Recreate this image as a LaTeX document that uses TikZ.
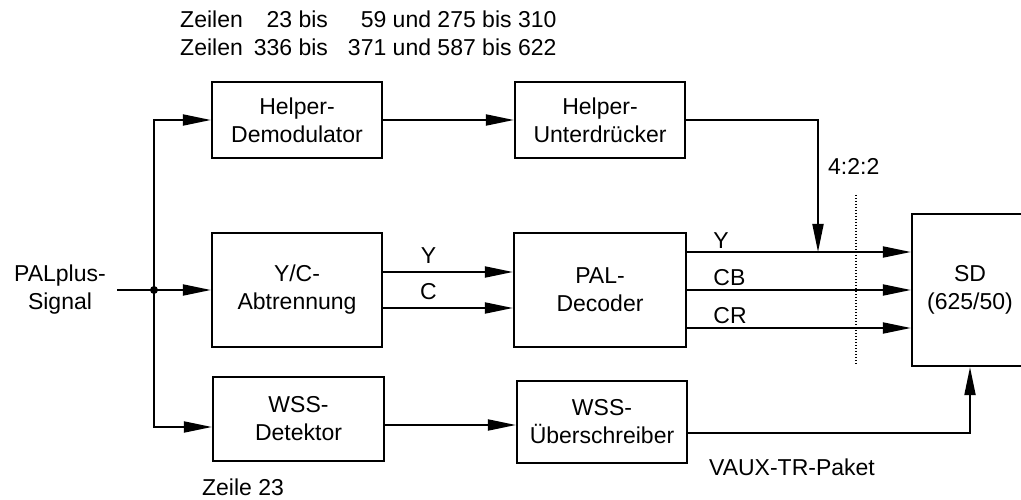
\documentclass[tikz,border=0pt]{standalone}
\usepackage{fontspec}
\setmainfont{Liberation Sans}
\usetikzlibrary{arrows.meta,positioning}
\begin{document}
\begin{tikzpicture}[x=1pt,y=-1pt,font=\fontsize{23}{28}\selectfont,
  block/.style={draw,line width=2.2pt,align=center,inner sep=0pt},
  sig/.style={line width=1.9pt,-{Triangle[length=28pt,width=11pt]}}]
\useasboundingbox (0,0) rectangle (1021,500);
\clip (0,0) rectangle (1021,500);

\node[anchor=base west,inner sep=0pt] (zeilen) at (180,28)
  {\begin{tabular}[t]{@{}l@{\hspace{11pt}}r@{\hspace{20pt}}r@{}}
   Zeilen & 23 bis & 59 und 275 bis 310\\
   Zeilen & 336 bis & 371 und 587 bis 622
   \end{tabular}};

\node[block,minimum width=170pt,minimum height=76pt] (hdemod) at (297,120) {Helper-\\Demodulator};
\node[block,minimum width=170pt,minimum height=76pt] (hunter) at (600,120) {Helper-\\Unterdrücker};
\node[block,minimum width=170pt,minimum height=114pt] (ycab) at (297,290) {Y/C-\\Abtrennung};
\node[block,minimum width=172pt,minimum height=114pt] (paldec) at (600,290) {PAL-\\Decoder};
\node[block,minimum width=171pt,minimum height=84pt] (wssdet) at (298.5,419) {WSS-\\Detektor};
\node[block,minimum width=170pt,minimum height=82pt] (wssueb) at (602,422) {WSS-\\Überschreiber};
\node[block,minimum width=116pt,minimum height=152pt] (sd) at (970,290) {SD\\(625/50)};

\node[align=center,inner sep=0pt] (pal) at (60,290) {PALplus-\\Signal};
\node[inner sep=0pt] (zeile) at (243,487) {Zeile 23};
\node[inner sep=0pt] (vaux) at (792,467) {VAUX-TR-Paket};
\node[anchor=west,inner sep=0pt] (ratio) at (828,166) {4:2:2};

\coordinate (in) at (117,290);
\coordinate (split) at (154,290);
\coordinate (busbot) at (154,427);
\coordinate (merge) at (818,252);

\draw[line width=1.9pt] (in) -- (split);
\fill (split) circle (4pt);
\draw[sig] (split) |- (hdemod);
\draw[sig] (split) -- (ycab);
\draw[sig] (split) |- (busbot -| wssdet.west);

\draw[sig] (hdemod) -- (hunter);
\draw[sig] ([yshift=18pt]ycab.east) -- ([yshift=18pt]paldec.west) node[pos=0.35,above=4pt] {Y};
\draw[sig] ([yshift=-18pt]ycab.east) -- ([yshift=-18pt]paldec.west) node[pos=0.35,above=4pt] {C};

\draw[sig] ([yshift=38pt]paldec.east) -- ([yshift=38pt]sd.west) node[pos=0.1,anchor=south west,inner sep=3pt] {Y};
\draw[sig] (paldec) -- (sd) node[pos=0.1,anchor=south west,inner sep=3pt] {CB};
\draw[sig] ([yshift=-38pt]paldec.east) -- ([yshift=-38pt]sd.west) node[pos=0.1,anchor=south west,inner sep=3pt] {CR};
\draw[sig] (hunter) -| (merge);
\draw[line width=1.2pt,dash pattern=on 1.2pt off 1.8pt] (856,195) -- (856,365);

\draw[sig] ([yshift=-6pt]wssdet.east) -- ([yshift=-6pt]wssdet.east -| wssueb.west);
\draw[sig] ([yshift=-11pt]wssueb.east) -| (sd);
\end{tikzpicture}
\end{document}
